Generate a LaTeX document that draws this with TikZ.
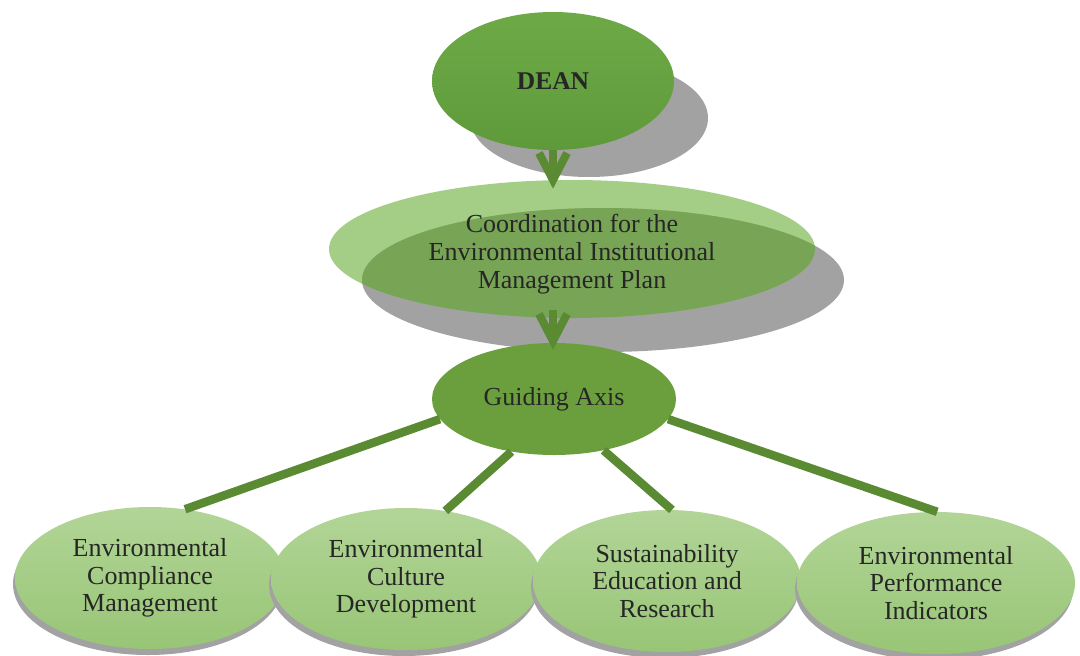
\documentclass[tikz,border=0pt]{standalone}
\usepackage{fontspec}
\setmainfont{Liberation Serif}
\usetikzlibrary{shapes.geometric}
\definecolor{deangreen}{HTML}{5F9A3A}
\definecolor{deantop}{HTML}{6DAA47}
\definecolor{axisgreen}{HTML}{6B9F3E}
\definecolor{linkgreen}{HTML}{5A8A32}
\definecolor{coordgreen}{HTML}{8DC266}
\definecolor{overlapgreen}{HTML}{74A052}
\definecolor{leaftop}{HTML}{B2D597}
\definecolor{leafbottom}{HTML}{98C576}
\definecolor{shadowgray}{HTML}{A2A2A2}
\tikzset{
  x=1pt, y=-1pt,
  oval/.style={ellipse, inner sep=0pt, align=center, text=black!85},
  leaf/.style={oval, minimum width=270pt, minimum height=142pt,
    top color=leaftop, bottom color=leafbottom, font=\fontsize{26}{27.5}\selectfont},
  rim/.style={fill=shadowgray},
  link/.style={draw=linkgreen, line width=8.5pt},
  chevron/.style={draw=linkgreen, line width=8pt},
}
\begin{document}
\begin{tikzpicture}
\useasboundingbox (0,0) rectangle (1080,656);

% shadows behind the upper ovals
\fill[shadowgray] (589,118) ellipse [x radius=119pt, y radius=59pt];
\fill[shadowgray] (603,280) ellipse [x radius=241pt, y radius=72pt];

% DEAN
\node[oval, minimum width=242pt, minimum height=138pt,
      top color=deantop, bottom color=deangreen,
      font=\fontsize{25.5}{28}\selectfont\bfseries] (dean) at (553,81) {DEAN};

% coordination oval, translucent over its shadow
\node[oval, minimum width=486pt, minimum height=138pt,
      fill=coordgreen, fill opacity=0.8] (coord) at (572,249) {};
\begin{scope}
  \clip (603,280) ellipse [x radius=241pt, y radius=72pt];
  \fill[overlapgreen, opacity=0.85] (572,249) ellipse [x radius=243pt, y radius=69pt];
\end{scope}
\node[font=\fontsize{26}{28}\selectfont, align=center, text=black!85] (coordtext) at (572,254)
  {Coordination for the\\Environmental Institutional\\Management Plan};

% guiding axis
\node[oval, minimum width=244pt, minimum height=112pt, fill=axisgreen,
      font=\fontsize{26}{28}\selectfont] (axis) at (554,399) {Guiding Axis};

% down chevrons between the upper ovals
\coordinate (c1) at (553,180);
\draw[chevron] (dean.south) -- (c1);
\draw[chevron, line join=miter] (539,153) -- (c1) -- (567,153);
\coordinate (c2) at (553,341);
\draw[chevron] (553,310) -- (c2);
\draw[chevron, line join=miter] (539,314) -- (c2) -- (567,314);

% bottom ovals with their rims
\fill[rim] (148,584) ellipse [x radius=135pt, y radius=71pt];
\node[leaf] (e1) at (150,578) {Environmental\\Compliance\\Management};
\fill[rim] (404,585) ellipse [x radius=135pt, y radius=71pt];
\node[leaf] (e2) at (406,579) {Environmental\\Culture\\Development};
\fill[rim] (665,587) ellipse [x radius=134pt, y radius=71pt];
\node[leaf, minimum width=268pt] (e3) at (667,581) {Sustainability\\Education and\\Research};
\fill[rim] (934,589) ellipse [x radius=139pt, y radius=71pt];
\node[leaf, minimum width=278pt] (e4) at (936,583) {Environmental\\Performance\\Indicators};

% links from the axis
\draw[link] (axis.190) -- (e1.63);
\draw[link] (axis.231) -- (e2.60);
\draw[link] (axis.314) -- (e3.86);
\draw[link] (axis.350) -- (e4.89);
\end{tikzpicture}
\end{document}
